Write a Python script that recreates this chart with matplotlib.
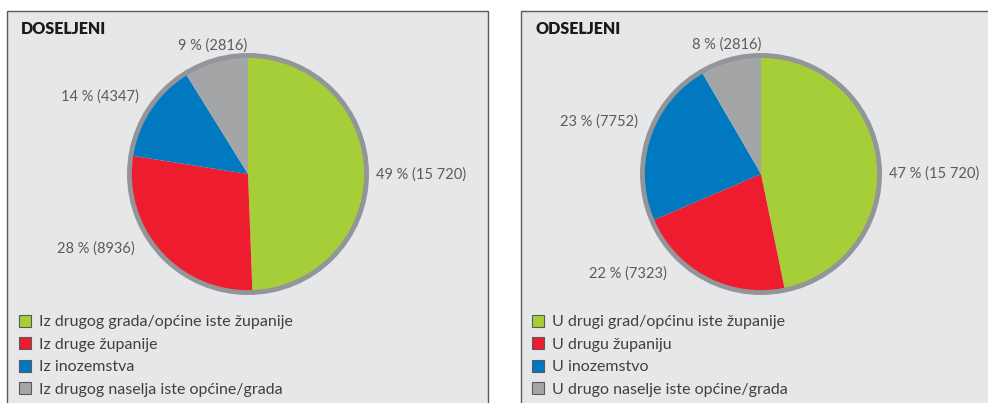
import matplotlib
matplotlib.use("Agg")
import matplotlib.pyplot as plt
from matplotlib.patches import Rectangle, Patch
import numpy as np

plt.rcParams['font.family'] = ['Lato', 'DejaVu Sans']

titles = ["DOSELJENI", "ODSELJENI"]
left_values = [15720, 8936, 4347, 2816]
left_pcts = [49, 28, 14, 9]
left_legend = ["Iz drugog grada/općine iste županije", "Iz druge županije",
               "Iz inozemstva", "Iz drugog naselja iste općine/grada"]
right_values = [15720, 7323, 7752, 2816]
right_pcts = [47, 22, 23, 8]
right_legend = ["U drugi grad/općinu iste županije", "U drugu županiju",
                "U inozemstvo", "U drugo naselje iste općine/grada"]

colors = ["#a6ce39", "#ed1c2e", "#0079c1", "#a3a5a6"]
W, H = 988, 403
fig = plt.figure(figsize=(W / 100, H / 100), dpi=100)
fig.patch.set_facecolor("white")

def fmt(v):
    s = f"{v:d}"
    if v >= 10000:
        s = s[:-3] + " " + s[-3:]
    return s

# panels: (left, top, right) in pixels
panels = [(7, 11, 488), (521, 11, 1000)]
centers = [(248, 174), (761, 174)]
R = 114
legend_x = [19, 532]
# pixel nudges (dx right, dy down)
nudges = [
    [(-6, 3), (-13, -14), (2, -3), (1, 0)],
    [(-5, 13), (-31, -18), (4, -10), (1, 0)],
]

datasets = [(left_values, left_pcts, left_legend), (right_values, right_pcts, right_legend)]

for i, (vals, pcts, legs) in enumerate(datasets):
    l, t, r = panels[i]
    fig.add_artist(Rectangle((l / W, -0.1), (r - l) / W, (H - t) / H + 0.1,
                             transform=fig.transFigure, facecolor="#e6e7e8",
                             edgecolor="#58595b", linewidth=1.0, zorder=0))
    fig.text((l + 14) / W, 1 - 29 / H, titles[i], fontsize=11.5, fontweight="heavy",
             color="#1a1a1a", va="center", ha="left")
    cx, cy = centers[i]
    m = 1.3
    ax = fig.add_axes([(cx - R * m) / W, (H - cy - R * m) / H, 2 * R * m / W, 2 * R * m / H])
    ax.set_xlim(-m, m)
    ax.set_ylim(-m, m)
    ax.set_aspect("equal")
    ax.axis("off")
    wedges, _ = ax.pie(vals, colors=colors, startangle=90, counterclock=False,
                       radius=1.0, wedgeprops=dict(linewidth=0))
    circ = plt.Circle((0, 0), 1.0, fill=False, edgecolor="#939598", linewidth=3.5)
    ax.add_artist(circ)
    for k, w in enumerate(wedges):
        ang = np.deg2rad((w.theta1 + w.theta2) / 2)
        x, y = np.cos(ang), np.sin(ang)
        ha = "left" if x > 0.3 else ("right" if x < -0.3 else "center")
        rr = 1.13
        dx, dy = nudges[i][k]
        ax.text(rr * x + dx / R, rr * y - dy / R, f"{pcts[k]} % ({fmt(vals[k])})",
                ha=ha, va="center", fontsize=10.5,
                color="#5a5b5d", clip_on=False)
    handles = [Patch(facecolor=c, edgecolor="#58595b", linewidth=0.8) for c in colors]
    fig.legend(handles, legs, loc="upper left",
               bbox_to_anchor=(legend_x[i] / W, 1 - 315 / H),
               frameon=False, handlelength=0.75, handleheight=0.75,
               handletextpad=0.5, labelspacing=0.5, borderpad=0, borderaxespad=0,
               labelcolor="#404041", prop=dict(size=11.5))

fig.savefig("out.png", dpi=100)
